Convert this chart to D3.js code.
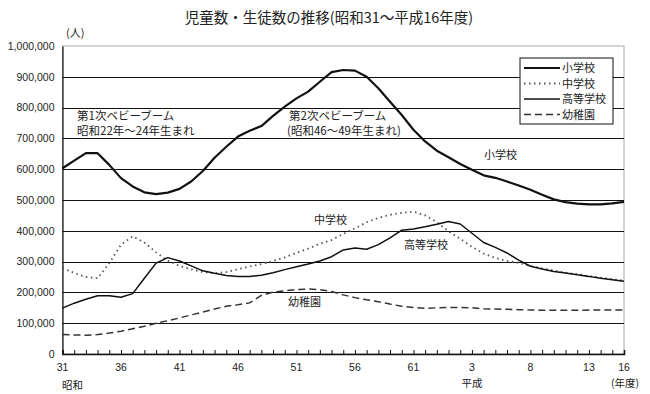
<!DOCTYPE html>
<html>
<head>
<meta charset="utf-8">
<script src="https://cdn.jsdelivr.net/npm/d3@7"></script>
<style>
  body { margin: 0; background: #fff; }
  svg { display: block; }
  text { font-family: "Noto Sans CJK JP", sans-serif; fill: #222; }
  .num { font-family: "Liberation Sans", Arial, sans-serif; }
</style>
</head>
<body>
<svg id="chart" width="650" height="394"></svg>
<script>
// year index 0 = 昭和31 (1956) ... 48 = 平成16 (2004)
const tickIdx = [0, 5, 10, 15, 20, 25, 30, 35, 40, 45, 48];
const tickLabels = ['31', '36', '41', '46', '51', '56', '61', '3', '8', '13', '16'];
const yTicks = [0, 100000, 200000, 300000, 400000, 500000, 600000, 700000, 800000, 900000, 1000000];

// values in thousands of persons
const elementary = [603, 628, 652, 652, 614, 571, 544, 525, 519, 524, 536, 560, 594, 637, 673, 706, 725, 740, 773, 803,
  830, 852, 884, 915, 922, 920, 900, 863, 819, 776, 728, 690, 660, 639, 617, 598, 580, 572, 560, 547,
  533, 517, 502, 493, 488, 486, 486, 489, 494];
const junior = [279, 263, 250, 246, 295, 355, 382, 362, 330, 303, 286, 275, 266, 262, 266, 275, 284, 292, 302, 314,
  328, 342, 358, 370, 390, 408, 428, 442, 452, 458, 462, 450, 428, 398, 374, 348, 326, 312, 302, 296,
  286, 278, 271, 264, 259, 253, 248, 243, 238];
const high = [149, 165, 178, 189, 189, 184, 196, 246, 295, 313, 302, 286, 270, 262, 255, 252, 252, 256, 264, 274,
  283, 292, 302, 316, 338, 344, 340, 355, 377, 402, 406, 413, 421, 430, 422, 392, 362, 346, 328, 305,
  285, 276, 268, 263, 257, 252, 246, 241, 236];
const kinder = [63, 62, 61, 63, 68, 74, 82, 90, 100, 108, 117, 127, 136, 146, 155, 160, 166, 190, 201, 205,
  209, 211, 209, 203, 192, 183, 176, 170, 162, 155, 151, 148, 150, 151, 151, 150, 147, 146, 145, 144,
  143, 142, 142, 142, 142, 143, 143, 143, 143];

const seriesNames = ['小学校', '中学校', '高等学校', '幼稚園'];

const svg = d3.select('#chart');
const m = { left: 62.5, right: 624, top: 46, bottom: 354 };

const x = d3.scaleLinear().domain([0, 48]).range([m.left, m.right]);
const y = d3.scaleLinear().domain([0, 1000000]).range([m.bottom, m.top]);

// title
svg.append('text')
  .attr('x', 329).attr('y', 23)
  .attr('text-anchor', 'middle')
  .style('font-size', '14.5px')
  .text('児童数・生徒数の推移(昭和31～平成16年度)');

svg.append('text')
  .attr('x', 66).attr('y', 37)
  .style('font-size', '11px')
  .text('(人)');

// plot frame
svg.append('rect')
  .attr('x', m.left).attr('y', m.top)
  .attr('width', m.right - m.left).attr('height', m.bottom - m.top)
  .attr('fill', 'none').attr('stroke', '#aaa');

// gridlines
svg.append('g')
  .selectAll('line')
  .data(yTicks.filter(d => d > 0 && d < 1000000))
  .join('line')
  .attr('x1', m.left).attr('x2', m.right)
  .attr('y1', d => Math.round(y(d)) + 0.5).attr('y2', d => Math.round(y(d)) + 0.5)
  .attr('stroke', '#111').attr('stroke-width', 1.2);

// y axis
const yAxis = svg.append('g')
  .attr('transform', `translate(${m.left},0)`)
  .call(d3.axisLeft(y).tickValues(yTicks).tickSize(0).tickPadding(8).tickFormat(d3.format(',')));
yAxis.select('.domain').attr('stroke', '#111').attr('stroke-width', 1.2);
yAxis.selectAll('text').attr('class', 'num').style('font-size', '10.5px').style('fill', '#222');

// x axis with yearly ticks pointing inward
const xAxis = svg.append('g')
  .attr('transform', `translate(0,${m.bottom})`)
  .call(d3.axisTop(x).tickValues(d3.range(0, 49)).tickSize(4).tickFormat(''));
xAxis.select('.domain').attr('stroke', '#111').attr('stroke-width', 1.5);
xAxis.selectAll('.tick line').attr('stroke', '#111');

svg.append('g')
  .selectAll('text')
  .data(tickIdx)
  .join('text')
  .attr('class', 'num')
  .attr('x', d => x(d)).attr('y', 371)
  .attr('text-anchor', 'middle')
  .style('font-size', '10.5px')
  .text((d, i) => tickLabels[i]);

svg.append('text').attr('x', x(0) + 10).attr('y', 389).attr('text-anchor', 'middle')
  .style('font-size', '10.5px').text('昭和');
svg.append('text').attr('x', x(35)).attr('y', 387).attr('text-anchor', 'middle')
  .style('font-size', '10.5px').text('平成');
svg.append('text').attr('x', x(48) + 1).attr('y', 387).attr('text-anchor', 'middle')
  .style('font-size', '10.5px').text('(年度)');

// lines
const line = d3.line()
  .x((d, i) => x(i))
  .y(d => y(d * 1000));

const styles = [
  { data: elementary, color: '#111', width: 2.2, dash: null },
  { data: junior, color: '#555', width: 1.8, dash: '1.5,3.5' },
  { data: high, color: '#111', width: 1.5, dash: null },
  { data: kinder, color: '#333', width: 1.5, dash: '7,4' }
];

svg.append('g')
  .selectAll('path')
  .data(styles)
  .join('path')
  .attr('d', d => line(d.data))
  .attr('fill', 'none')
  .attr('stroke', d => d.color)
  .attr('stroke-width', d => d.width)
  .attr('stroke-dasharray', d => d.dash)
  .attr('stroke-linejoin', 'round');

// annotations
const notes = [
  { x: 77, y: 120, t: '第1次ベビーブーム', s: 11.5 },
  { x: 77, y: 135, t: '昭和22年～24年生まれ', s: 11.5 },
  { x: 289, y: 120, t: '第2次ベビーブーム', s: 11.5 },
  { x: 287, y: 135, t: '(昭和46～49年生まれ)', s: 11.5 },
  { x: 484, y: 159, t: '小学校', s: 11 },
  { x: 314, y: 224, t: '中学校', s: 11 },
  { x: 404, y: 249, t: '高等学校', s: 11 },
  { x: 288, y: 306, t: '幼稚園', s: 11 }
];
svg.append('g')
  .selectAll('text')
  .data(notes)
  .join('text')
  .attr('x', d => d.x).attr('y', d => d.y)
  .style('font-size', d => d.s + 'px')
  .text(d => d.t);

// legend
const lg = svg.append('g').attr('transform', 'translate(520,58)');
lg.append('rect').attr('width', 93).attr('height', 66)
  .attr('fill', '#fff').attr('stroke', '#111');
const items = lg.selectAll('g').data(styles).join('g')
  .attr('transform', (d, i) => `translate(0,${10 + i * 15.5})`);
items.append('line')
  .attr('x1', 4).attr('x2', 40)
  .attr('stroke', d => d.color)
  .attr('stroke-width', d => d.width)
  .attr('stroke-dasharray', d => d.dash);
items.append('text')
  .attr('x', 42).attr('y', 4)
  .style('font-size', '11px')
  .text((d, i) => seriesNames[i]);
</script>
</body>
</html>
